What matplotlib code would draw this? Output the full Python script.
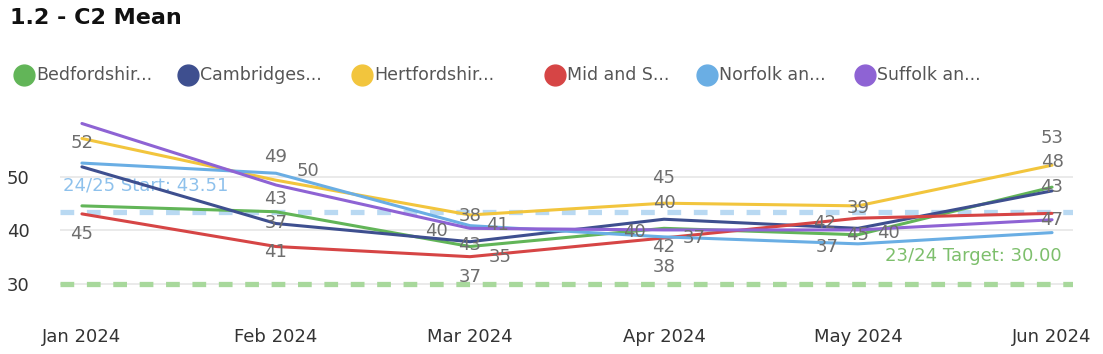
import matplotlib
matplotlib.use("Agg")
import matplotlib.pyplot as plt
from matplotlib.lines import Line2D

# ---- data ----
months = ["Jan 2024", "Feb 2024", "Mar 2024", "Apr 2024", "May 2024", "Jun 2024"]
legend_names = ["Bedfordshir...", "Cambridges...", "Hertfordshir...",
                "Mid and S...", "Norfolk an...", "Suffolk an..."]

bedfordshire = [44.6, 43.5, 37.0, 40.4, 39.2, 48.1]
cambridgeshire = [51.9, 41.3, 37.9, 42.1, 40.4, 47.4]
hertfordshire = [57.2, 49.4, 42.9, 45.1, 44.6, 52.2]
mid_and_south = [43.1, 37.0, 35.1, 38.6, 42.3, 43.2]
norfolk = [52.6, 50.7, 40.9, 38.8, 37.5, 39.6]
suffolk = [60.0, 48.5, 40.4, 40.1, 40.1, 42.0]

start_value = 43.51
target_value = 30.00

# data labels as shown in the report: (series index, month index, text)
label_series = [2, 3, 2, 4, 1, 1, 3, 2, 5, 4, 1, 0, 3,
                2, 1, 0, 4, 3, 3, 3, 2, 4, 0, 5, 2, 2, 0, 5]
label_month = [0, 0, 1, 1, 1, 1, 1, 2, 2, 2, 2, 2, 2,
               3, 3, 3, 3, 3, 3, 4, 4, 4, 4, 4, 5, 5, 5, 5]
label_text = ["52", "45", "49", "50", "43", "37", "41", "38", "40", "41", "43", "37", "35",
              "45", "40", "40", "42", "37", "38", "42", "39", "37", "45", "40",
              "53", "48", "43", "47"]

series = [bedfordshire, cambridgeshire, hertfordshire, mid_and_south, norfolk, suffolk]
colors = ["#62B558", "#3E4F8F", "#F2C53D", "#D64545", "#6AAEE4", "#8E63D4"]

# label offsets in pixels (x right, y up) relative to the point
label_dx = [0, 0, 0, 32, 0, 0, 0, 0, -34, 28, 0, 0, 30,
            0, 0, -30, 0, 30, 0, -33, 0, -31, 0, 30, 0, 0, 0, 0]
label_dy = [-5, -20, 23, 2, 25, 1, -5, -1, -3, 1, -3, -30, 0,
            25, 16, -4, -10, 0, -29, -5, -2, -3, 0, -3, 27, 3, 0, 0]

fig = plt.figure(figsize=(11.03, 3.54), dpi=100)
W, H = 1103, 354
ymin, ymax = 27, 62
ax = fig.add_axes([60 / W, 1 - 300 / H, (1073 - 60) / W, (300 - 112.8) / H])

x = list(range(len(months)))
ax.axhline(target_value, color="#A8D89C", lw=3.8, ls=(0, (2.6, 2.4)), zorder=1)
ax.axhline(start_value, color="#B9D9F2", lw=3.8, ls=(0, (2.6, 2.4)), zorder=1)

for vals, c in zip(series, colors):
    ax.plot(x, vals, color=c, lw=2.2, zorder=3, solid_capstyle="round")

for s, m, t, dx, dy in zip(label_series, label_month, label_text, label_dx, label_dy):
    ax.annotate(t, (m, series[s][m]), xytext=(dx, dy), textcoords="offset pixels",
                ha="center", va="center", fontsize=13, color="#6E6E6E", zorder=4)

ax.text(-0.1, start_value + 3.3, f"24/25 Start: {start_value:.2f}", color="#8EC1EC",
        fontsize=13, ha="left", va="bottom", zorder=2)
ax.text(5.05, target_value + 3.6, f"23/24 Target: {target_value:.2f}", color="#7DBF6C",
        fontsize=13, ha="right", va="bottom", zorder=2)

ax.set_xlim(-0.113, 5.108)
ax.set_ylim(ymin, ymax)
ax.set_yticks([30, 40, 50])
ax.set_xticks(x)
ax.set_xticklabels(months)
ax.grid(axis="y", color="#E6E6E6", lw=1.2)
ax.set_axisbelow(True)
for sp in ax.spines.values():
    sp.set_visible(False)
ax.tick_params(axis="both", length=0, labelsize=13, colors="#333333")
ax.tick_params(axis="y", pad=22)
ax.tick_params(axis="x", pad=20)

fig.text(10 / W, 1 - 18 / H, "1.2 - C2 Mean", fontsize=16, fontweight="bold",
         color="#111111", ha="left", va="center")

legend_x = [24, 188, 362, 555, 707, 865]
for lx, name, c in zip(legend_x, legend_names, colors):
    fig.add_artist(Line2D([lx / W], [1 - 75 / H], marker="o", markersize=15,
                          color=c, transform=fig.transFigure))
    fig.text((lx + 12) / W, 1 - 75 / H, name, fontsize=12.5, color="#555555",
             ha="left", va="center")

fig.savefig("out.png", dpi=100)
